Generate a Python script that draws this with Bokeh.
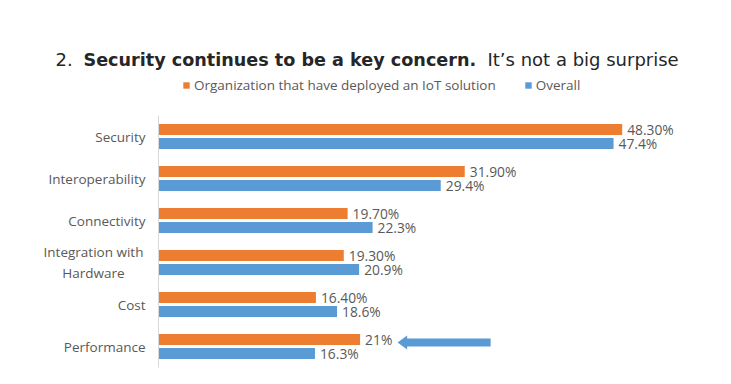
from bokeh.plotting import figure
from bokeh.models import ColumnDataSource, Label, Legend, LegendItem, Range1d
from bokeh.core.properties import value
from bokeh.embed import file_html
from bokeh.resources import INLINE

# ---- data ----
categories = ["Security", "Interoperability", "Connectivity",
              "Integration with Hardware", "Cost", "Performance"]
category_labels = ["Security", "Interoperability", "Connectivity",
                   "Integration with\nHardware", "Cost", "Performance"]
iot_deployed = [48.3, 31.9, 19.7, 19.3, 16.4, 21.0]
iot_labels = ["48.30%", "31.90%", "19.70%", "19.30%", "16.40%", "21%"]
overall = [47.4, 29.4, 22.3, 20.9, 18.6, 16.3]
overall_labels = ["47.4%", "29.4%", "22.3%", "20.9%", "18.6%", "16.3%"]
series_names = ["Organization that have deployed an IoT solution", "Overall"]
title_parts = ["2.", "Security continues to be a key concern.",
               "It\u2019s not a big surprise"]

# annotation arrow (data units, pointing at the Performance label)
arrow_category = "Performance"
arrow_tip = 24.9
arrow_head_back = 25.9
arrow_tail = 34.6

ORANGE = "#ED7D31"
BLUE = "#5B9BD5"
TXT = "#595959"
FONT = "Open Sans"

W, Hh = 715, 368
LEFT = 158          # px from figure left to value 0
TOP = 115           # px from figure top to first category band
BAND = 42.0         # px per category
PX_PER_PCT = 9.6    # px per percentage point

n = len(categories)
ypos = [n - i - 0.5 for i in range(n)]   # category centres, top first

OFF = 7 / BAND
BH = 11 / BAND
src = ColumnDataSource(dict(
    y=ypos, y_iot=[v + OFF for v in ypos], y_ov=[v - OFF for v in ypos],
    iot=iot_deployed, ov=overall, iot_lab=iot_labels, ov_lab=overall_labels,
    cat_lab=category_labels,
    align=["center" if "\n" in c else "right" for c in category_labels],
    xoff=[-65 if "\n" in c else -13 for c in category_labels]))

p = figure(width=W, height=Hh, output_backend="svg", toolbar_location=None,
           x_range=Range1d(-LEFT / PX_PER_PCT, (W - LEFT) / PX_PER_PCT),
           y_range=Range1d(n - (Hh - TOP) / BAND, n + TOP / BAND),
           min_border=0)
p.outline_line_color = None
p.grid.visible = False
p.axis.visible = False

r1 = p.hbar(y="y_iot", right="iot", left=0, height=BH, source=src,
            color=ORANGE, line_color=None)
r2 = p.hbar(y="y_ov", right="ov", left=0, height=BH, source=src,
            color=BLUE, line_color=None)

# vertical category axis line
p.segment(x0=[0], y0=[0], x1=[0], y1=[n], line_color="#D9D9D9", line_width=1)

p.text(x="iot", y="y_iot", text="iot_lab", source=src, x_offset=5,
       text_baseline="middle", text_font=value(FONT),
       text_font_size="13.8px", text_color=TXT)
p.text(x="ov", y="y_ov", text="ov_lab", source=src, x_offset=5,
       text_baseline="middle", text_font=value(FONT),
       text_font_size="13.8px", text_color=TXT)

# category labels
p.text(x=0, y="y", text="cat_lab", source=src, x_offset="xoff",
       text_align="align", text_baseline="middle", text_font=value(FONT),
       text_font_size="13.5px", text_color=TXT, text_line_height=1.15)

# arrow annotation
yc = ypos[categories.index(arrow_category)] + 4 / BAND
shaft = 4 / BAND
head = 7 / BAND
p.patch(x=[arrow_tip, arrow_head_back, arrow_head_back, arrow_tail, arrow_tail,
           arrow_head_back, arrow_head_back],
        y=[yc, yc + head, yc + shaft, yc + shaft, yc - shaft, yc - shaft, yc - head],
        fill_color=BLUE, line_color=None)

legend = Legend(items=[LegendItem(label=series_names[0], renderers=[r1]),
                       LegendItem(label=series_names[1], renderers=[r2])],
                orientation="horizontal", location=(182, 274),
                glyph_width=8, glyph_height=8, label_standoff=4, spacing=28,
                label_text_font=FONT, label_text_font_size="13.5px",
                label_text_color=TXT, label_height=16,
                border_line_alpha=0, background_fill_alpha=0,
                padding=0, margin=0)
p.add_layout(legend, "center")

title_y = 309
for txt, x, style, fs in zip(title_parts, [55, 83, 487], ["normal", "bold", "normal"],
                             ["18px", "17.6px", "18px"]):
    p.add_layout(Label(x=x, y=title_y, x_units="screen", y_units="screen",
                       text=txt, text_font="DejaVu Sans", text_font_size=fs,
                       text_font_style=style, text_color="#262626",
                       text_baseline="alphabetic"))

open("out.html", "w").write(file_html(p, INLINE))
